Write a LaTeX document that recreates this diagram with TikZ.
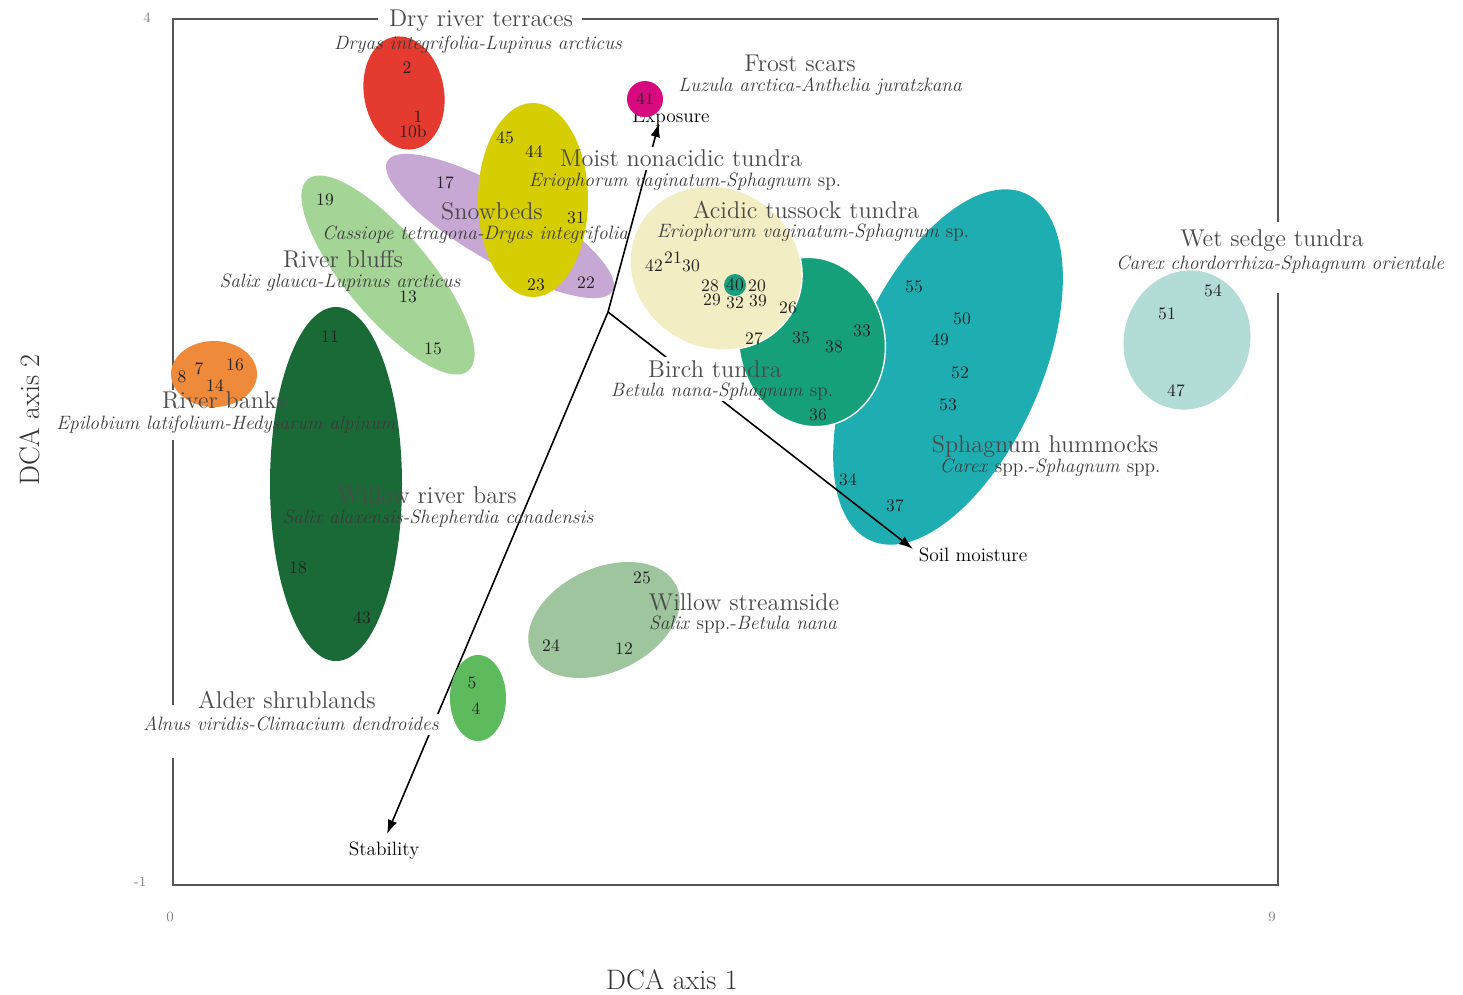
\documentclass[tikz,border=0pt]{standalone}
\usetikzlibrary{arrows.meta}
\definecolor{cRed}{HTML}{E53A2F}
\definecolor{cMag}{HTML}{D70A80}
\definecolor{cLilac}{HTML}{C7A7D3}
\definecolor{cYel}{HTML}{D6CE02}
\definecolor{cBluff}{HTML}{A4D496}
\definecolor{cOrange}{HTML}{EF8A3B}
\definecolor{cDkGreen}{HTML}{1A6A38}
\definecolor{cCream}{HTML}{F3EDC3}
\definecolor{cBirch}{HTML}{15A07A}
\definecolor{cTeal}{HTML}{1EAEB2}
\definecolor{cWet}{HTML}{B3DCD7}
\definecolor{cStream}{HTML}{9EC59E}
\definecolor{cAlder}{HTML}{5DBB5E}
\definecolor{cDot}{HTML}{1A9E7E}
\definecolor{titlegray}{HTML}{4A4A4A}
\definecolor{subgray}{HTML}{3A3A3A}
\definecolor{numgray}{HTML}{222222}
\definecolor{framegray}{HTML}{555555}
\tikzset{
  ttl/.style={font=\fontsize{13.8}{15}\selectfont, text=titlegray, inner sep=0pt},
  sub/.style={font=\fontsize{11}{13}\selectfont\itshape, text=subgray, inner sep=0pt},
  num/.style={font=\fontsize{10}{11}\selectfont, text=numgray, inner sep=0pt},
  vec/.style={draw=black, line width=0.9pt, -{Latex[length=8pt,width=5.5pt]}},
  veclbl/.style={font=\fontsize{11}{12}\selectfont, text=black, inner sep=0pt},
  tick/.style={font=\fontsize{8}{9}\selectfont, text=gray, inner sep=0pt},
  axlbl/.style={font=\fontsize{16}{18}\selectfont, text=black!80, inner sep=0pt},
  frame/.style={draw=framegray, line width=1.4pt},
  outl/.style={draw=white, line width=0.8pt}
}
\begin{document}
\begin{tikzpicture}[x=0.02cm,y=-0.02cm]
\useasboundingbox (0,0) rectangle (1463,994);
\fill[white] (0,0) rectangle (1463,994);

% frame with gaps behind labels
\draw[frame] (378,19) -- (173,19) -- (173,390);
\draw[frame] (173,440) -- (173,705);
\draw[frame] (173,758) -- (173,885) -- (1278,885) -- (1278,293);
\draw[frame] (1278,222) -- (1278,19) -- (582,19);

% tick labels and axis titles
\node[tick] (y4) at (147,18) {4};
\node[tick] (ym1) at (140,882) {-1};
\node[tick] (x0) at (170,917) {0};
\node[tick] (x9) at (1272,917) {9};
\node[axlbl] (ax1) at (672,980) {DCA axis 1};
\node[axlbl, rotate=90] (ax2) at (30,420) {DCA axis 2};

% ellipses below the vectors
\fill[cTeal, rotate around={66:(948,367)}] (948,367) ellipse [x radius={190*0.02cm}, y radius={93*0.02cm}];
\fill[cLilac, rotate around={-30:(500,226)}] (500,226) ellipse [x radius={130*0.02cm}, y radius={36*0.02cm}];

% vectors
\coordinate (O) at (608,312);
\node[veclbl] (expo) at (671,118) {Exposure};
\node[veclbl] (stab) at (384,851) {Stability};
\node[veclbl] (soil) at (973,555) {Soil moisture};
\coordinate (expoE) at (659,123);
\coordinate (stabE) at (387,834);
\coordinate (soilE) at (913,549);
\draw[vec] (O) -- (expoE);
\draw[vec] (O) -- (stabE);
\draw[vec] (O) -- (soilE);

% white backgrounds behind some labels
\fill[white] (557,147) rectangle (808,170);
\fill[white] (648,357) rectangle (800,401);
\fill[white] (135,714) rectangle (448,735);

% remaining ellipses
\fill[cRed, rotate around={10:(404,93)}] (404,93) ellipse [x radius={40*0.02cm}, y radius={57*0.02cm}];
\fill[cMag] (645,99) circle [radius={18*0.02cm}];
\fill[cYel] (533,200) ellipse [x radius={55*0.02cm}, y radius={97*0.02cm}];
\fill[cBluff, rotate around={-50:(388,275)}] (388,275) ellipse [x radius={125*0.02cm}, y radius={42*0.02cm}];
\fill[cOrange] (214,374) ellipse [x radius={43*0.02cm}, y radius={33*0.02cm}];
\fill[cDkGreen] (336,484) ellipse [x radius={66*0.02cm}, y radius={177*0.02cm}];
\fill[cBirch, outl, rotate around={10:(812,342)}] (812,342) ellipse [x radius={73*0.02cm}, y radius={85*0.02cm}];
\fill[cCream, outl, rotate around={-30:(716,268)}] (716,268) ellipse [x radius={88*0.02cm}, y radius={80*0.02cm}];
\fill[cDot] (735,285) circle [radius={11*0.02cm}];
\fill[cWet, rotate around={-15:(1187,340)}] (1187,340) ellipse [x radius={63*0.02cm}, y radius={70*0.02cm}];
\fill[cStream, rotate around={25:(604,620)}] (604,620) ellipse [x radius={80*0.02cm}, y radius={52*0.02cm}];
\fill[cAlder] (478,698) ellipse [x radius={28*0.02cm}, y radius={43*0.02cm}];

% community labels
\node[ttl] (t1) at (481,21) {Dry river terraces};
\node[sub] (s1) at (478,45) {Dryas integrifolia-Lupinus arcticus};
\node[ttl] (t2) at (800,63) {Frost scars};
\node[sub] (s2) at (820,87) {Luzula arctica-Anthelia juratzkana};
\node[ttl] (t3) at (681,158) {Moist nonacidic tundra};
\node[sub] (s3) at (685,182) {Eriophorum vaginatum-Sphagnum \textup{sp.}};
\node[ttl] (t4) at (492,211) {Snowbeds};
\node[sub] (s4) at (475,235) {Cassiope tetragona-Dryas integrifolia};
\node[ttl] (t5) at (806,210) {Acidic tussock tundra};
\node[sub] (s5) at (813,233) {Eriophorum vaginatum-Sphagnum \textup{sp.}};
\node[ttl] (t6) at (1272,241) {Wet sedge tundra};
\node[sub] (s6) at (1280,265) {Carex chordorrhiza-Sphagnum orientale};
\node[ttl] (t7) at (343,259) {River bluffs};
\node[sub] (s7) at (340,283) {Salix glauca-Lupinus arcticus};
\node[ttl] (t8) at (224,400) {River banks};
\node[sub] (s8) at (226,425) {Epilobium latifolium-Hedysarum alpinum};
\node[ttl] (t9) at (715,369) {Birch tundra};
\node[sub] (s9) at (722,392) {Betula nana-Sphagnum \textup{sp.}};
\node[ttl] (t10) at (1045,446) {Sphagnum hummocks};
\node[sub] (s10) at (1050,468) {Carex \textup{spp.-}Sphagnum \textup{spp.}};
\node[ttl] (t11) at (427,495) {Willow river bars};
\node[sub] (s11) at (438,519) {Salix alaxensis-Shepherdia canadensis};
\node[ttl] (t12) at (744,602) {Willow streamside};
\node[sub] (s12) at (743,625) {Salix \textup{spp.-}Betula nana};
\node[ttl] (t13) at (287,700) {Alder shrublands};
\node[sub] (s13) at (291,724) {Alnus viridis-Climacium dendroides};

% plot numbers
\foreach \t/\x/\y [count=\i] in {
  2/407/68, 1/418/117, 10b/413/132, 41/645/99,
  45/505/138, 44/534/152, 31/576/218, 23/536/285,
  17/445/183, 22/586/283,
  19/325/200, 13/408/297, 15/433/349,
  8/182/377, 7/199/369, 16/235/365, 14/215/386,
  11/330/337, 18/298/568, 43/362/618,
  42/654/266, 21/673/258, 30/691/266, 28/710/286, 40/735/285, 20/757/286,
  29/712/300, 32/735/303, 39/758/301, 26/788/308, 27/754/339,
  35/801/338, 38/834/347, 33/862/331, 36/818/415,
  55/914/287, 50/962/319, 49/940/340, 52/960/373, 53/948/405, 34/848/480, 37/895/506,
  54/1213/291, 51/1167/314, 47/1176/391,
  25/642/578, 24/551/646, 12/624/649,
  5/472/683, 4/476/709}
  \node[num] (n\i) at (\x,\y) {\t};
\end{tikzpicture}
\end{document}
